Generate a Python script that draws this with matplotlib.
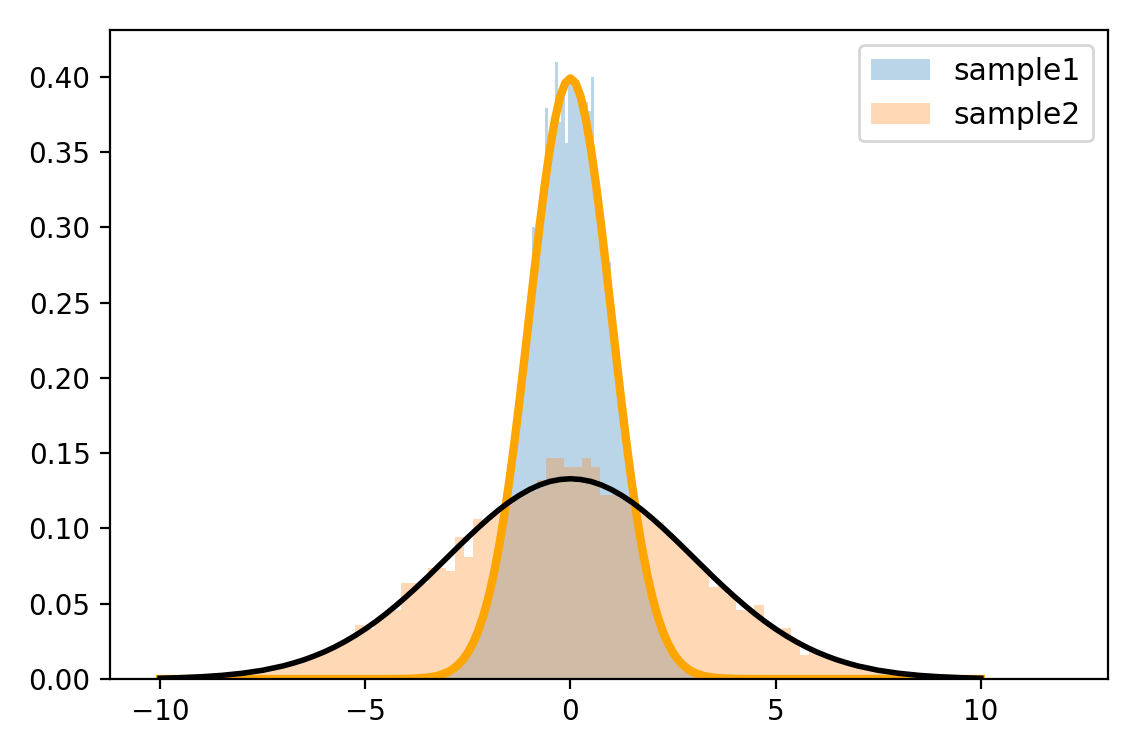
import numpy as np
import matplotlib.pyplot as plt

# histogram 1 (sample1): 100 bins starting at -3.9, width 0.08
s1_start = -3.9
s1_width = 0.08
s1_heights = [0.0002, 0.0003, 0.0004, 0.0006, 0.0008, 0.0010, 0.0013, 0.0017, 0.0022, 0.0029,
              0.0037, 0.0047, 0.0060, 0.0075, 0.0093, 0.0116, 0.0143, 0.0175, 0.0213, 0.0258,
              0.0310, 0.0371, 0.0440, 0.0519, 0.0608, 0.0707, 0.0818, 0.0940, 0.1074, 0.1219,
              0.1374, 0.1539, 0.1714, 0.1895, 0.2083, 0.2275, 0.2468, 0.3000, 0.2850, 0.3034,
              0.3209, 0.3790, 0.3521, 0.3653, 0.4100, 0.3700, 0.3900, 0.3560, 0.3989, 0.3982,
              0.3950, 0.3894, 0.3814, 0.3830, 0.3770, 0.4000, 0.3292, 0.3123, 0.2943, 0.2756,
              0.2770, 0.2371, 0.2179, 0.1989, 0.1804, 0.1626, 0.1456, 0.1295, 0.1145, 0.1006,
              0.0878, 0.0762, 0.0656, 0.0562, 0.0478, 0.0404, 0.0339, 0.0283, 0.0235, 0.0194,
              0.0158, 0.0129, 0.0104, 0.0084, 0.0067, 0.0053, 0.0042, 0.0033, 0.0025, 0.0020,
              0.0015, 0.0011, 0.0009, 0.0006, 0.0005, 0.0004, 0.0003, 0.0002, 0.0001, 0.0001]

# histogram 2 (sample2): 100 bins starting at -10.1, width 0.221
s2_start = -10.1
s2_width = 0.221
s2_heights = [0.0005, 0.0007, 0.0008, 0.0010, 0.0013, 0.0017, 0.0022, 0.0025, 0.0031, 0.0038,
              0.0046, 0.0056, 0.0067, 0.0079, 0.0094, 0.0112, 0.0133, 0.0155, 0.0179, 0.0207,
              0.0238, 0.0273, 0.0360, 0.0330, 0.0390, 0.0442, 0.0460, 0.0640, 0.0640, 0.0640,
              0.0740, 0.0740, 0.0720, 0.0940, 0.0810, 0.1060, 0.1055, 0.1104, 0.1148, 0.1189,
              0.1236, 0.1250, 0.1320, 0.1470, 0.1470, 0.1410, 0.1410, 0.1470, 0.1410, 0.1220,
              0.1220, 0.1200, 0.1174, 0.1122, 0.1078, 0.1040, 0.0970, 0.0914, 0.0850, 0.0793,
              0.0733, 0.0610, 0.0617, 0.0561, 0.0460, 0.0459, 0.0490, 0.0366, 0.0325, 0.0340,
              0.0250, 0.0160, 0.0190, 0.0163, 0.0139, 0.0119, 0.0101, 0.0085, 0.0072, 0.0059,
              0.0050, 0.0040, 0.0033, 0.0027, 0.0022, 0.0018, 0.0014, 0.0011, 0.0009, 0.0006,
              0.0005, 0.0003, 0.0002, 0.0002, 0.0001, 0.0001, 0.0, 0.0, 0.0, 0.0005]

# narrow density curve (orange)
narrow_x = [-10.0, -4.5, -4.0, -3.75, -3.5, -3.25, -3.0, -2.875, -2.75, -2.625, -2.5, -2.375,
            -2.25, -2.125, -2.0, -1.875, -1.75, -1.625, -1.5, -1.375, -1.25, -1.125, -1.0, -0.875,
            -0.75, -0.625, -0.5, -0.375, -0.25, -0.125, 0.0, 0.125, 0.25, 0.375, 0.5, 0.625,
            0.75, 0.875, 1.0, 1.125, 1.25, 1.375, 1.5, 1.625, 1.75, 1.875, 2.0, 2.125,
            2.25, 2.375, 2.5, 2.625, 2.75, 2.875, 3.0, 3.25, 3.5, 3.75, 4.0, 4.5, 10.0]
narrow_y = [0.0, 0.0, 0.0001, 0.0004, 0.0009, 0.0020, 0.0044, 0.0064, 0.0091, 0.0127, 0.0175, 0.0238,
            0.0317, 0.0417, 0.0540, 0.0688, 0.0863, 0.1066, 0.1295, 0.1550, 0.1826, 0.2119, 0.2420, 0.2720,
            0.3011, 0.3282, 0.3521, 0.3718, 0.3867, 0.3958, 0.3989, 0.3958, 0.3867, 0.3718, 0.3521, 0.3282,
            0.3011, 0.2720, 0.2420, 0.2119, 0.1826, 0.1550, 0.1295, 0.1066, 0.0863, 0.0688, 0.0540, 0.0417,
            0.0317, 0.0238, 0.0175, 0.0127, 0.0091, 0.0064, 0.0044, 0.0020, 0.0009, 0.0004, 0.0001, 0.0, 0.0]

# wide density curve (black)
wide_x = [-10.0, -9.5, -9.0, -8.5, -8.0, -7.5, -7.0, -6.75, -6.5, -6.25, -6.0, -5.75,
          -5.5, -5.25, -5.0, -4.75, -4.5, -4.25, -4.0, -3.75, -3.5, -3.25, -3.0, -2.75,
          -2.5, -2.25, -2.0, -1.75, -1.5, -1.25, -1.0, -0.75, -0.5, -0.25, 0.0, 0.25,
          0.5, 0.75, 1.0, 1.25, 1.5, 1.75, 2.0, 2.25, 2.5, 2.75, 3.0, 3.25,
          3.5, 3.75, 4.0, 4.25, 4.5, 4.75, 5.0, 5.25, 5.5, 5.75, 6.0, 6.25,
          6.5, 6.75, 7.0, 7.5, 8.0, 8.5, 9.0, 9.5, 10.0]
wide_y = [0.0005, 0.0009, 0.0015, 0.0024, 0.0038, 0.0058, 0.0087, 0.0106, 0.0127, 0.0152, 0.0180, 0.0212,
          0.0248, 0.0288, 0.0332, 0.0380, 0.0432, 0.0488, 0.0547, 0.0609, 0.0673, 0.0740, 0.0807, 0.0874,
          0.0940, 0.1004, 0.1065, 0.1122, 0.1174, 0.1219, 0.1258, 0.1289, 0.1312, 0.1325, 0.1330, 0.1325,
          0.1312, 0.1289, 0.1258, 0.1219, 0.1174, 0.1122, 0.1065, 0.1004, 0.0940, 0.0874, 0.0807, 0.0740,
          0.0673, 0.0609, 0.0547, 0.0488, 0.0432, 0.0380, 0.0332, 0.0288, 0.0248, 0.0212, 0.0180, 0.0152,
          0.0127, 0.0106, 0.0087, 0.0058, 0.0038, 0.0024, 0.0015, 0.0009, 0.0005]

fig = plt.figure(figsize=(1135 / 200, 740 / 200), dpi=200)
ax = fig.add_axes([0.0969, 0.0824, 0.8793, 0.8771])

left1 = s1_start + s1_width * np.arange(len(s1_heights))
left2 = s2_start + s2_width * np.arange(len(s2_heights))
ax.bar(left1, s1_heights, width=s1_width, align='edge', color='tab:blue', alpha=0.3,
       linewidth=0, label='sample1')
ax.bar(left2, s2_heights, width=s2_width, align='edge', color='tab:orange', alpha=0.3,
       linewidth=0, label='sample2')
ax.plot(narrow_x, narrow_y, color='orange', linewidth=3)
ax.plot(wide_x, wide_y, color='black', linewidth=2)

ax.set_xlim(-11.22, 13.1)
ax.set_ylim(0, 0.431)
ax.set_xticks([-10, -5, 0, 5, 10])
ax.set_yticks(np.arange(0, 0.41, 0.05))
ax.legend(loc='upper right', fontsize=10.7)

fig.savefig('out.png', dpi=200)
